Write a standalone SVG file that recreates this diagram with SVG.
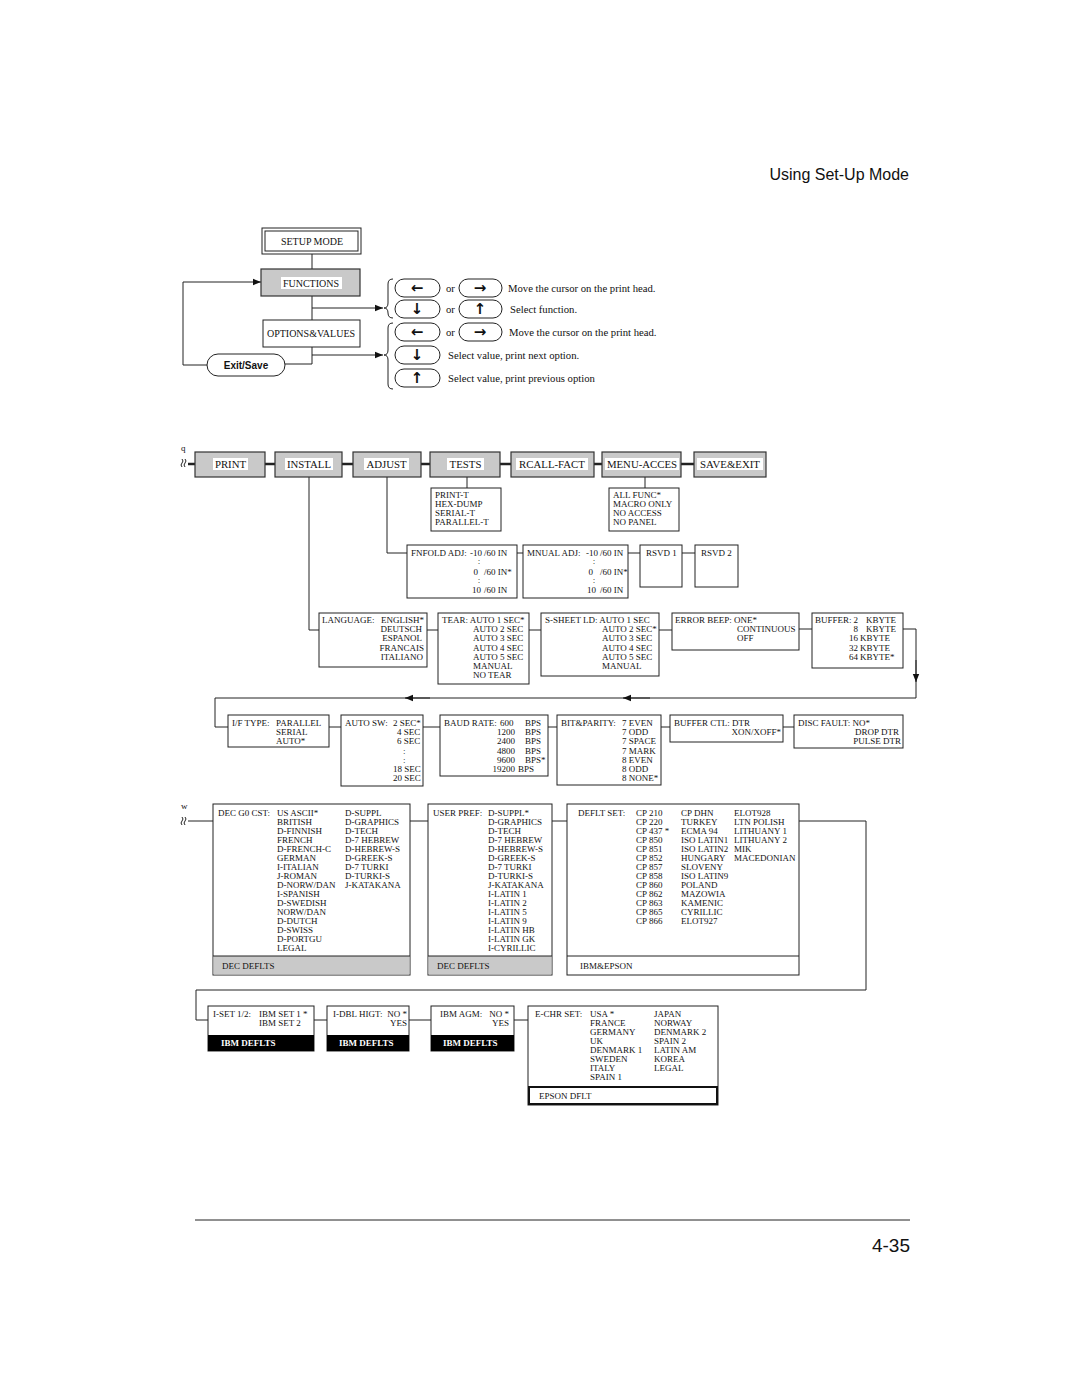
<svg xmlns="http://www.w3.org/2000/svg" width="1080" height="1397" viewBox="0 0 1080 1397">
<defs>
<style>
.b{fill:#fff;stroke:#222;stroke-width:1}
.g{fill:#c9c9c9;stroke:#333;stroke-width:1.2}
.k{fill:#000}
.ln{fill:none;stroke:#222;stroke-width:1}
.th{fill:none;stroke:#222;stroke-width:2.5}
.t{font-family:"Liberation Serif","Times New Roman",serif;font-size:9px;fill:#111}
.t10{font-family:"Liberation Serif","Times New Roman",serif;font-size:10px;fill:#111}
.tm{font-family:"Liberation Serif","Times New Roman",serif;font-size:10.7px;fill:#111}
.ts{font-family:"Liberation Serif","Times New Roman",serif;font-size:10.8px;fill:#111}
.e{text-anchor:end}
.m{text-anchor:middle}
.w{font-weight:bold;fill:#fff}
.ar{font-family:"DejaVu Sans",sans-serif;font-size:15px;fill:#111;text-anchor:middle;font-weight:bold}
</style>
<marker id="ah" viewBox="0 0 10 10" refX="10" refY="5" markerWidth="8" markerHeight="8" markerUnits="userSpaceOnUse" orient="auto"><path d="M0,1 L10,5 L0,9 z" fill="#111"/></marker>
</defs>
<rect width="1080" height="1397" fill="#fff"/>

<text x="909" y="180" font-family="Liberation Sans, Arial, sans-serif" font-size="16" text-anchor="end" fill="#111">Using Set-Up Mode</text>
<line x1="195" y1="1220" x2="910" y2="1220" stroke="#222" stroke-width="1"/>
<text x="910" y="1252" font-family="Liberation Sans, Arial, sans-serif" font-size="19" text-anchor="end" fill="#111">4-35</text>

<g id="connectors">
<line class="ln" x1="312" y1="254" x2="312" y2="269"/>
<line class="ln" x1="312" y1="296" x2="312" y2="320"/>
<line class="ln" x1="312" y1="308" x2="383" y2="308" marker-end="url(#ah)"/>
<path class="ln" d="M312 347 V364 H285"/>
<line class="ln" x1="312" y1="355" x2="383" y2="355" marker-end="url(#ah)"/>
<path class="ln" d="M207 365 H183 V282 H261" marker-end="url(#ah)"/>
<path class="ln" d="M393 279 Q388 279 388 284 V303 Q388 308 384 308 Q388 308 388 313 V313 Q388 318 393 318"/>
<path class="ln" d="M393 323 Q388 323 388 328 V350 Q388 355 384 355 Q388 355 388 360 V384 Q388 389 393 389"/>

<line class="th" x1="188" y1="464" x2="195" y2="464"/>
<line class="th" x1="265" y1="464" x2="275" y2="464"/>
<line class="th" x1="342" y1="464" x2="353" y2="464"/>
<line class="th" x1="421" y1="464" x2="430" y2="464"/>
<line class="th" x1="500" y1="464" x2="511" y2="464"/>
<line class="th" x1="594" y1="464" x2="602" y2="464"/>
<line class="th" x1="681" y1="464" x2="694" y2="464"/>
<line class="ln" x1="467" y1="477" x2="467" y2="488"/>
<line class="ln" x1="645" y1="477" x2="645" y2="488"/>
<path class="ln" d="M387 477 V553 H407"/>
<path class="ln" d="M309 477 V630 H319"/>
<line class="ln" x1="517" y1="553" x2="523" y2="553"/>
<line class="ln" x1="628" y1="553" x2="640" y2="553"/>
<line class="ln" x1="682" y1="553" x2="695" y2="553"/>
<line class="ln" x1="427" y1="630" x2="438" y2="630"/>
<line class="ln" x1="529" y1="630" x2="541" y2="630"/>
<line class="ln" x1="659" y1="630" x2="672" y2="630"/>
<line class="ln" x1="799" y1="629" x2="812" y2="629"/>
<path class="ln" d="M903 629 H916 V698 H215 V727 H228"/>
<line class="ln" x1="916" y1="660" x2="916" y2="682" marker-end="url(#ah)"/>
<line class="ln" x1="430" y1="698" x2="405" y2="698" marker-end="url(#ah)"/>
<line class="ln" x1="650" y1="698" x2="623" y2="698" marker-end="url(#ah)"/>
<line class="ln" x1="329" y1="727" x2="341" y2="727"/>
<line class="ln" x1="423" y1="727" x2="440" y2="727"/>
<line class="ln" x1="548" y1="727" x2="557" y2="727"/>
<line class="ln" x1="661" y1="727" x2="670" y2="727"/>
<line class="ln" x1="783" y1="727" x2="794" y2="727"/>
<line class="ln" x1="188" y1="821" x2="213" y2="821"/>
<line class="ln" x1="410" y1="821" x2="428" y2="821"/>
<line class="ln" x1="552" y1="821" x2="567" y2="821"/>
<path class="ln" d="M799 821 H866 V990 H196 V1020 H208"/>
<line class="ln" x1="314" y1="1020" x2="327" y2="1020"/>
<line class="ln" x1="409" y1="1020" x2="431" y2="1020"/>
<line class="ln" x1="514" y1="1020" x2="528" y2="1020"/>
<path class="ln" d="M182 459 q2 2 0 4 q-2 2 0 4 M185 459 q2 2 0 4 q-2 2 0 4"/>
<path class="ln" d="M182 817 q2 2 0 4 q-2 2 0 4 M185 817 q2 2 0 4 q-2 2 0 4"/>
</g>
<text class="t" x="181" y="451" font-size="7">q</text>
<text class="t" x="181" y="809" font-size="7">w</text>

<g id="setup-mode">
<rect class="b" x="262" y="228" width="99" height="26"/>
<rect class="b" x="265" y="231" width="93" height="20"/>
<text class="t10 m" x="312" y="244.5">SETUP MODE</text>
</g>
<g id="functions">
<rect class="g" x="261" y="269" width="99" height="27"/>
<rect x="281" y="277" width="61" height="12" fill="#fff"/>
<text class="t10 m" x="311" y="286.5">FUNCTIONS</text>
</g>
<g id="options-values">
<rect class="b" x="263" y="320" width="97" height="27"/>
<text class="t10 m" x="311" y="337">OPTIONS&amp;VALUES</text>
</g>
<g id="exit-save">
<rect class="b" x="207" y="354" width="78" height="22" rx="11"/>
<text x="246" y="368.5" font-family="Liberation Sans, Arial, sans-serif" font-size="10" font-weight="bold" text-anchor="middle" fill="#111">Exit/Save</text>
</g>
<g id="keys">
<rect class="b" x="395" y="279" width="45" height="18" rx="9"/><text class="ar" x="417" y="293">←</text>
<text class="tm" x="446" y="291.5">or</text>
<rect class="b" x="459" y="279" width="43" height="18" rx="9"/><text class="ar" x="480" y="293">→</text>
<text class="tm" x="508" y="291.5">Move the cursor on the print head.</text>

<rect class="b" x="395" y="300" width="45" height="18" rx="9"/><text class="ar" x="417" y="314">↓</text>
<text class="tm" x="446" y="312.5">or</text>
<rect class="b" x="459" y="300" width="43" height="18" rx="9"/><text class="ar" x="480" y="314">↑</text>
<text class="tm" x="510" y="312.5">Select function.</text>

<rect class="b" x="395" y="323" width="45" height="18" rx="9"/><text class="ar" x="417" y="337">←</text>
<text class="tm" x="446" y="335.5">or</text>
<rect class="b" x="459" y="323" width="43" height="18" rx="9"/><text class="ar" x="480" y="337">→</text>
<text class="tm" x="509" y="335.5">Move the cursor on the print head.</text>

<rect class="b" x="395" y="346" width="45" height="18" rx="9"/><text class="ar" x="417" y="360">↓</text>
<text class="tm" x="448" y="358.5">Select value, print next option.</text>

<rect class="b" x="395" y="369" width="45" height="18" rx="9"/><text class="ar" x="417" y="383">↑</text>
<text class="tm" x="448" y="381.5">Select value, print previous option</text>
</g>

<g id="m-print"><rect class="g" x="195" y="452" width="70" height="25"/><rect x="213" y="458" width="35" height="12" fill="#fff"/><text class="ts m" x="230.5" y="468">PRINT</text></g>
<g id="m-install"><rect class="g" x="275" y="452" width="67" height="25"/><rect x="285" y="458" width="48" height="12" fill="#fff"/><text class="ts m" x="309" y="468">INSTALL</text></g>
<g id="m-adjust"><rect class="g" x="353" y="452" width="68" height="25"/><rect x="364" y="458" width="45" height="12" fill="#fff"/><text class="ts m" x="386.5" y="468">ADJUST</text></g>
<g id="m-tests"><rect class="g" x="430" y="452" width="70" height="25"/><rect x="447" y="458" width="37" height="12" fill="#fff"/><text class="ts m" x="465.5" y="468">TESTS</text></g>
<g id="m-rcall"><rect class="g" x="511" y="452" width="83" height="25"/><rect x="516" y="458" width="72" height="12" fill="#fff"/><text class="ts m" x="552" y="468">RCALL-FACT</text></g>
<g id="m-menu"><rect class="g" x="602" y="452" width="79" height="25"/><rect x="605" y="458" width="74" height="12" fill="#fff"/><text class="ts m" x="642" y="468">MENU-ACCES</text></g>
<g id="m-save"><rect class="g" x="694" y="452" width="72" height="25"/><rect x="697" y="458" width="66" height="12" fill="#fff"/><text class="ts m" x="730" y="468">SAVE&amp;EXIT</text></g>

<g id="tests-list"><rect class="b" x="431" y="488" width="70" height="43"/>
<text class="t" x="435" y="498">PRINT-T</text><text class="t" x="435" y="507">HEX-DUMP</text><text class="t" x="435" y="516">SERIAL-T</text><text class="t" x="435" y="525">PARALLEL-T</text></g>
<g id="menu-list"><rect class="b" x="609" y="488" width="70" height="43"/>
<text class="t" x="613" y="498">ALL FUNC*</text><text class="t" x="613" y="507">MACRO ONLY</text><text class="t" x="613" y="516">NO ACCESS</text><text class="t" x="613" y="525">NO PANEL</text></g>

<g id="fnfold"><rect class="b" x="407" y="545" width="110" height="53"/>
<text class="t" x="411" y="556">FNFOLD ADJ:</text><text class="t e" x="482" y="556">-10</text><text class="t" x="484" y="556">/60 IN</text>
<text class="t m" x="479" y="563.5">:</text>
<text class="t e" x="478" y="575">0</text><text class="t" x="484" y="575">/60 IN*</text>
<text class="t m" x="479" y="583">:</text>
<text class="t e" x="481" y="593">10</text><text class="t" x="484" y="593">/60 IN</text></g>
<g id="mnual"><rect class="b" x="523" y="545" width="105" height="53"/>
<text class="t" x="527" y="556">MNUAL ADJ:</text><text class="t e" x="598" y="556">-10</text><text class="t" x="600" y="556">/60 IN</text>
<text class="t m" x="594" y="563.5">:</text>
<text class="t e" x="593" y="575">0</text><text class="t" x="600" y="575">/60 IN*</text>
<text class="t m" x="594" y="583">:</text>
<text class="t e" x="596" y="593">10</text><text class="t" x="600" y="593">/60 IN</text></g>
<g id="rsvd1"><rect class="b" x="640" y="545" width="42" height="42"/><text class="t" x="646" y="556">RSVD 1</text></g>
<g id="rsvd2"><rect class="b" x="695" y="545" width="43" height="42"/><text class="t" x="701" y="556">RSVD 2</text></g>

<g id="language"><rect class="b" x="319" y="613" width="108" height="54"/>
<text class="t" x="322" y="623">LANGUAGE:</text>
<text class="t e" x="424" y="623">ENGLISH*</text><text class="t e" x="422" y="632.2">DEUTSCH</text><text class="t e" x="422" y="641.4">ESPANOL</text><text class="t e" x="424" y="650.6">FRANCAIS</text><text class="t e" x="423" y="659.8">ITALIANO</text></g>
<g id="tear"><rect class="b" x="438" y="613" width="91" height="71"/>
<text class="t" x="442" y="623">TEAR: AUTO 1 SEC*</text>
<text class="t" x="473" y="632.2">AUTO 2 SEC</text><text class="t" x="473" y="641.4">AUTO 3 SEC</text><text class="t" x="473" y="650.6">AUTO 4 SEC</text><text class="t" x="473" y="659.8">AUTO 5 SEC</text><text class="t" x="473" y="669">MANUAL</text><text class="t" x="473" y="678.2">NO TEAR</text></g>
<g id="ssheet"><rect class="b" x="541" y="613" width="118" height="63"/>
<text class="t" x="545" y="623">S-SHEET LD: AUTO 1 SEC</text>
<text class="t" x="602" y="632.2">AUTO 2 SEC*</text><text class="t" x="602" y="641.4">AUTO 3 SEC</text><text class="t" x="602" y="650.6">AUTO 4 SEC</text><text class="t" x="602" y="659.8">AUTO 5 SEC</text><text class="t" x="602" y="669">MANUAL</text></g>
<g id="errorbeep"><rect class="b" x="672" y="613" width="127" height="37"/>
<text class="t" x="675" y="623">ERROR BEEP: ONE*</text>
<text class="t" x="737" y="632.2">CONTINUOUS</text><text class="t" x="737" y="641.4">OFF</text></g>
<g id="buffer"><rect class="b" x="812" y="613" width="91" height="55"/>
<text class="t" x="815" y="623">BUFFER:</text>
<text class="t e" x="858" y="623">2</text><text class="t" x="866" y="623">KBYTE</text>
<text class="t e" x="858" y="632.2">8</text><text class="t" x="866" y="632.2">KBYTE</text>
<text class="t e" x="858" y="641.4">16</text><text class="t" x="860" y="641.4">KBYTE</text>
<text class="t e" x="858" y="650.6">32</text><text class="t" x="860" y="650.6">KBYTE</text>
<text class="t e" x="858" y="659.8">64</text><text class="t" x="860" y="659.8">KBYTE*</text></g>

<g id="iftype"><rect class="b" x="228" y="715" width="101" height="32"/>
<text class="t" x="232" y="726">I/F TYPE:</text><text class="t" x="276" y="726">PARALLEL</text>
<text class="t" x="276" y="735.2">SERIAL</text><text class="t" x="276" y="744.4">AUTO*</text></g>
<g id="autosw"><rect class="b" x="341" y="715" width="82" height="71"/>
<text class="t" x="345" y="726">AUTO SW:</text><text class="t" x="393" y="726">2 SEC*</text>
<text class="t" x="397" y="735.2">4 SEC</text><text class="t" x="397" y="744.4">6 SEC</text>
<text class="t" x="403" y="753.6">:</text><text class="t" x="403" y="762.8">:</text>
<text class="t" x="393" y="772">18 SEC</text><text class="t" x="393" y="781.2">20 SEC</text></g>
<g id="baud"><rect class="b" x="440" y="715" width="108" height="61"/>
<text class="t" x="444" y="726">BAUD RATE:</text><text class="t" x="500" y="726">600</text><text class="t" x="525" y="726">BPS</text>
<text class="t e" x="515" y="735.2">1200</text><text class="t" x="525" y="735.2">BPS</text>
<text class="t e" x="515" y="744.4">2400</text><text class="t" x="525" y="744.4">BPS</text>
<text class="t e" x="515" y="753.6">4800</text><text class="t" x="525" y="753.6">BPS</text>
<text class="t e" x="515" y="762.8">9600</text><text class="t" x="525" y="762.8">BPS*</text>
<text class="t e" x="515" y="772">19200</text><text class="t" x="518" y="772">BPS</text></g>
<g id="bitparity"><rect class="b" x="557" y="715" width="104" height="70"/>
<text class="t" x="561" y="726">BIT&amp;PARITY:</text><text class="t" x="622" y="726">7 EVEN</text>
<text class="t" x="622" y="735.2">7 ODD</text><text class="t" x="622" y="744.4">7 SPACE</text><text class="t" x="622" y="753.6">7 MARK</text><text class="t" x="622" y="762.8">8 EVEN</text><text class="t" x="622" y="772">8 ODD</text><text class="t" x="622" y="781.2">8 NONE*</text></g>
<g id="bufferctl"><rect class="b" x="670" y="715" width="113" height="27"/>
<text class="t" x="674" y="726">BUFFER CTL: DTR</text>
<text class="t e" x="781" y="735.2">XON/XOFF*</text></g>
<g id="discfault"><rect class="b" x="794" y="715" width="109" height="33"/>
<text class="t" x="798" y="726">DISC FAULT: NO*</text>
<text class="t e" x="899" y="735.2">DROP DTR</text><text class="t e" x="901" y="744.4">PULSE DTR</text></g>

<g id="decg0"><rect class="b" x="213" y="804" width="197" height="171"/>
<rect x="213.5" y="956" width="196" height="18.5" fill="#c9c9c9"/>
<line class="ln" x1="213" y1="956" x2="410" y2="956"/>
<text class="t" x="222" y="969">DEC DEFLTS</text>
<text class="t" x="218" y="816">DEC G0 CST:</text>
<text class="t" x="277" y="816">US ASCII*</text><text class="t" x="277" y="825">BRITISH</text><text class="t" x="277" y="834">D-FINNISH</text><text class="t" x="277" y="843">FRENCH</text><text class="t" x="277" y="852">D-FRENCH-C</text><text class="t" x="277" y="861">GERMAN</text><text class="t" x="277" y="870">I-ITALIAN</text><text class="t" x="277" y="879">J-ROMAN</text><text class="t" x="277" y="888">D-NORW/DAN</text><text class="t" x="277" y="897">I-SPANISH</text><text class="t" x="277" y="906">D-SWEDISH</text><text class="t" x="277" y="915">NORW/DAN</text><text class="t" x="277" y="924">D-DUTCH</text><text class="t" x="277" y="933">D-SWISS</text><text class="t" x="277" y="942">D-PORTGU</text><text class="t" x="277" y="951">LEGAL</text>
<text class="t" x="345" y="816">D-SUPPL</text><text class="t" x="345" y="825">D-GRAPHICS</text><text class="t" x="345" y="834">D-TECH</text><text class="t" x="345" y="843">D-7 HEBREW</text><text class="t" x="345" y="852">D-HEBREW-S</text><text class="t" x="345" y="861">D-GREEK-S</text><text class="t" x="345" y="870">D-7 TURKI</text><text class="t" x="345" y="879">D-TURKI-S</text><text class="t" x="345" y="888">J-KATAKANA</text></g>
<g id="userpref"><rect class="b" x="428" y="804" width="124" height="171"/>
<rect x="428.5" y="956" width="123" height="18.5" fill="#c9c9c9"/>
<line class="ln" x1="428" y1="956" x2="552" y2="956"/>
<text class="t" x="437" y="969">DEC DEFLTS</text>
<text class="t" x="433" y="816">USER PREF:</text>
<text class="t" x="488" y="816">D-SUPPL*</text><text class="t" x="488" y="825">D-GRAPHICS</text><text class="t" x="488" y="834">D-TECH</text><text class="t" x="488" y="843">D-7 HEBREW</text><text class="t" x="488" y="852">D-HEBREW-S</text><text class="t" x="488" y="861">D-GREEK-S</text><text class="t" x="488" y="870">D-7 TURKI</text><text class="t" x="488" y="879">D-TURKI-S</text><text class="t" x="488" y="888">J-KATAKANA</text><text class="t" x="488" y="897">I-LATIN 1</text><text class="t" x="488" y="906">I-LATIN 2</text><text class="t" x="488" y="915">I-LATIN 5</text><text class="t" x="488" y="924">I-LATIN 9</text><text class="t" x="488" y="933">I-LATIN HB</text><text class="t" x="488" y="942">I-LATIN GK</text><text class="t" x="488" y="951">I-CYRILLIC</text></g>
<g id="defltset"><rect class="b" x="567" y="804" width="232" height="171"/>
<line class="ln" x1="567" y1="956" x2="799" y2="956"/>
<text class="t" x="580" y="969">IBM&amp;EPSON</text>
<text class="t" x="578" y="816">DEFLT SET:</text>
<text class="t" x="636" y="816">CP 210</text><text class="t" x="636" y="825">CP 220</text><text class="t" x="636" y="834">CP 437 *</text><text class="t" x="636" y="843">CP 850</text><text class="t" x="636" y="852">CP 851</text><text class="t" x="636" y="861">CP 852</text><text class="t" x="636" y="870">CP 857</text><text class="t" x="636" y="879">CP 858</text><text class="t" x="636" y="888">CP 860</text><text class="t" x="636" y="897">CP 862</text><text class="t" x="636" y="906">CP 863</text><text class="t" x="636" y="915">CP 865</text><text class="t" x="636" y="924">CP 866</text>
<text class="t" x="681" y="816">CP DHN</text><text class="t" x="681" y="825">TURKEY</text><text class="t" x="681" y="834">ECMA 94</text><text class="t" x="681" y="843">ISO LATIN1</text><text class="t" x="681" y="852">ISO LATIN2</text><text class="t" x="681" y="861">HUNGARY</text><text class="t" x="681" y="870">SLOVENY</text><text class="t" x="681" y="879">ISO LATIN9</text><text class="t" x="681" y="888">POLAND</text><text class="t" x="681" y="897">MAZOWIA</text><text class="t" x="681" y="906">KAMENIC</text><text class="t" x="681" y="915">CYRILLIC</text><text class="t" x="681" y="924">ELOT927</text>
<text class="t" x="734" y="816">ELOT928</text><text class="t" x="734" y="825">LTN POLISH</text><text class="t" x="734" y="834">LITHUANY 1</text><text class="t" x="734" y="843">LITHUANY 2</text><text class="t" x="734" y="852">MIK</text><text class="t" x="734" y="861">MACEDONIAN</text></g>

<g id="iset"><rect class="b" x="208" y="1006" width="106" height="45"/>
<rect class="k" x="208" y="1035" width="106" height="16"/>
<text class="t" x="213" y="1017">I-SET 1/2:</text><text class="t" x="259" y="1017">IBM SET 1 *</text><text class="t" x="259" y="1026">IBM SET 2</text>
<text class="t w" x="221" y="1046">IBM DEFLTS</text></g>
<g id="idbl"><rect class="b" x="327" y="1006" width="82" height="45"/>
<rect class="k" x="327" y="1035" width="82" height="16"/>
<text class="t" x="333" y="1017">I-DBL HIGT:</text><text class="t e" x="407" y="1017">NO *</text><text class="t e" x="407" y="1026">YES</text>
<text class="t w" x="339" y="1046">IBM DEFLTS</text></g>
<g id="ibmagm"><rect class="b" x="431" y="1006" width="83" height="45"/>
<rect class="k" x="431" y="1035" width="83" height="16"/>
<text class="t" x="440" y="1017">IBM AGM:</text><text class="t e" x="509" y="1017">NO *</text><text class="t e" x="509" y="1026">YES</text>
<text class="t w" x="443" y="1046">IBM DEFLTS</text></g>
<g id="echr"><rect class="b" x="528" y="1006" width="190" height="99"/>
<rect x="529" y="1087" width="188" height="17" fill="none" stroke="#111" stroke-width="2"/>
<text class="t" x="539" y="1099">EPSON DFLT</text>
<text class="t" x="535" y="1017">E-CHR SET:</text>
<text class="t" x="590" y="1017">USA *</text><text class="t" x="590" y="1026">FRANCE</text><text class="t" x="590" y="1035">GERMANY</text><text class="t" x="590" y="1044">UK</text><text class="t" x="590" y="1053">DENMARK 1</text><text class="t" x="590" y="1062">SWEDEN</text><text class="t" x="590" y="1071">ITALY</text><text class="t" x="590" y="1080">SPAIN 1</text>
<text class="t" x="654" y="1017">JAPAN</text><text class="t" x="654" y="1026">NORWAY</text><text class="t" x="654" y="1035">DENMARK 2</text><text class="t" x="654" y="1044">SPAIN 2</text><text class="t" x="654" y="1053">LATIN AM</text><text class="t" x="654" y="1062">KOREA</text><text class="t" x="654" y="1071">LEGAL</text></g>
</svg>
